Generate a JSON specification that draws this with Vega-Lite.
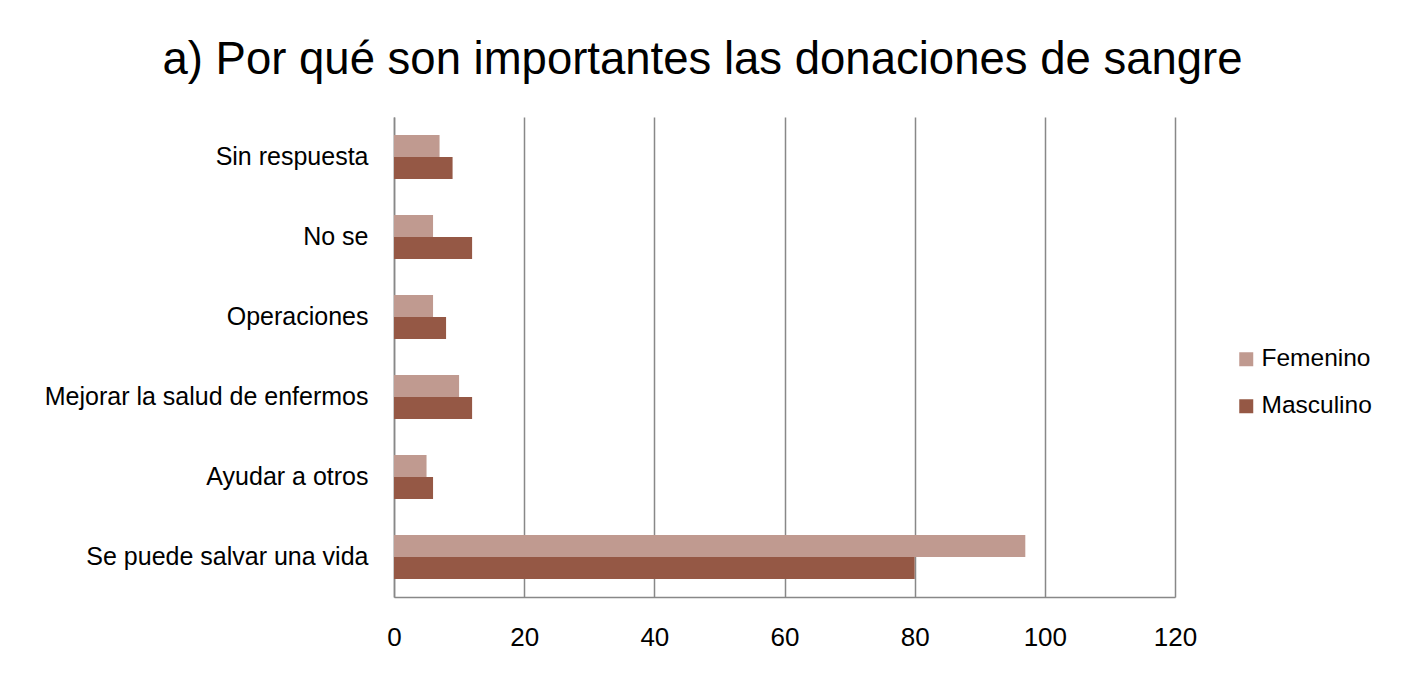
{
  "$schema": "https://vega.github.io/schema/vega-lite/v6.json",
  "width": 781,
  "height": 480,
  "autosize": {"type": "none"},
  "padding": {"left": 394, "top": 117, "right": 229, "bottom": 77},
  "background": "white",
  "title": {
    "text": "a) Por qué son importantes las donaciones de sangre",
    "fontSize": 45.5,
    "font": "Liberation Sans",
    "fontWeight": "normal",
    "color": "#000000",
    "anchor": "middle",
    "dx": -82,
    "offset": 34
  },
  "data": {
    "values": [
      {"categoria": "Sin respuesta", "sexo": "Femenino", "valor": 7},
      {"categoria": "Sin respuesta", "sexo": "Masculino", "valor": 9},
      {"categoria": "No se", "sexo": "Femenino", "valor": 6},
      {"categoria": "No se", "sexo": "Masculino", "valor": 12},
      {"categoria": "Operaciones", "sexo": "Femenino", "valor": 6},
      {"categoria": "Operaciones", "sexo": "Masculino", "valor": 8},
      {"categoria": "Mejorar la salud de enfermos", "sexo": "Femenino", "valor": 10},
      {"categoria": "Mejorar la salud de enfermos", "sexo": "Masculino", "valor": 12},
      {"categoria": "Ayudar a otros", "sexo": "Femenino", "valor": 5},
      {"categoria": "Ayudar a otros", "sexo": "Masculino", "valor": 6},
      {"categoria": "Se puede salvar una vida", "sexo": "Femenino", "valor": 97},
      {"categoria": "Se puede salvar una vida", "sexo": "Masculino", "valor": 80}
    ]
  },
  "mark": {"type": "bar"},
  "encoding": {
    "y": {
      "field": "categoria",
      "type": "nominal",
      "sort": ["Sin respuesta", "No se", "Operaciones", "Mejorar la salud de enfermos", "Ayudar a otros", "Se puede salvar una vida"],
      "scale": {"paddingInner": 0.45, "paddingOuter": 0.225},
      "axis": {
        "title": null,
        "ticks": false,
        "domain": true,
        "domainColor": "#888888",
        "domainWidth": 1.5,
        "labelFontSize": 25,
        "labelFont": "Liberation Sans",
        "labelColor": "#000000",
        "labelPadding": 26,
        "labelLimit": 0,
        "grid": false
      }
    },
    "yOffset": {
      "field": "sexo",
      "type": "nominal",
      "sort": ["Femenino", "Masculino"],
      "scale": {"paddingInner": 0, "paddingOuter": 0}
    },
    "x": {
      "field": "valor",
      "type": "quantitative",
      "scale": {"domain": [0, 120], "nice": false},
      "axis": {
        "title": null,
        "values": [0, 20, 40, 60, 80, 100, 120],
        "ticks": false,
        "domain": true,
        "domainColor": "#888888",
        "domainWidth": 1.5,
        "grid": true,
        "gridColor": "#888888",
        "gridWidth": 1.5,
        "labelFontSize": 26,
        "labelFont": "Liberation Sans",
        "labelColor": "#000000",
        "labelPadding": 27,
        "labelFlush": false
      }
    },
    "color": {
      "field": "sexo",
      "type": "nominal",
      "sort": ["Femenino", "Masculino"],
      "scale": {"domain": ["Femenino", "Masculino"], "range": ["#C09A90", "#955845"]},
      "legend": {
        "title": null,
        "orient": "none",
        "legendX": 840,
        "legendY": 230,
        "symbolType": "square",
        "symbolSize": 196,
        "symbolStrokeWidth": 0,
        "labelFontSize": 24.5,
        "labelFont": "Liberation Sans",
        "labelColor": "#000000",
        "labelOffset": 3,
        "rowPadding": 22,
        "padding": 0
      }
    }
  },
  "config": {
    "view": {"stroke": null}
  }
}
